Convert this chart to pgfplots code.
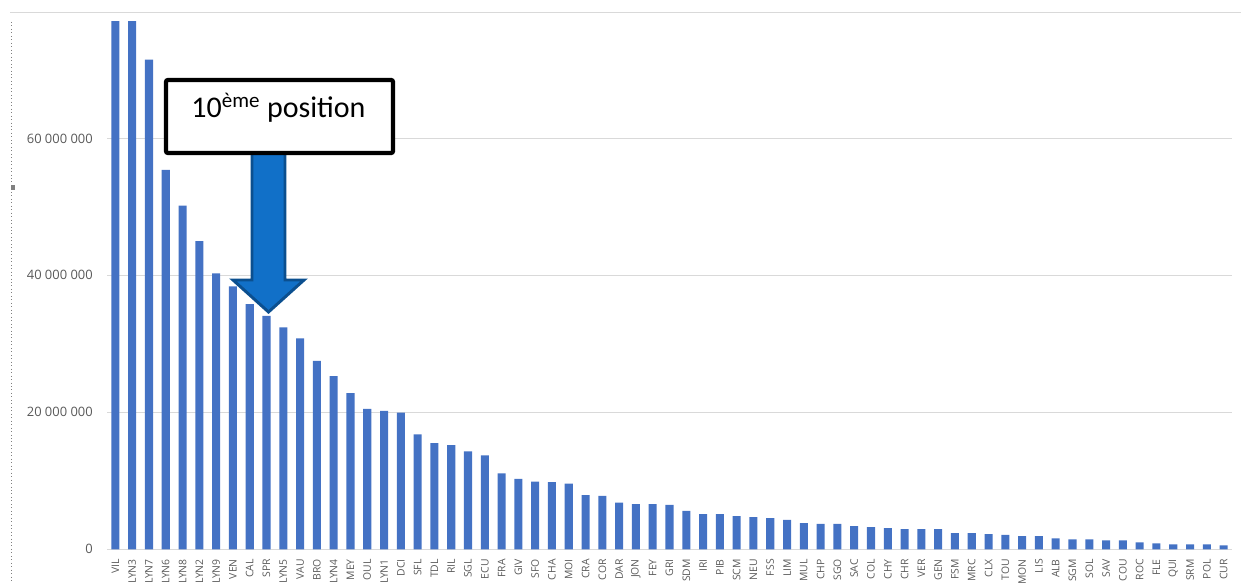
\documentclass[border=0pt]{standalone}
\usepackage{pgfplots}
\pgfplotsset{compat=1.18}
\usepackage{pgfplotstable}
\usepackage{fontspec}
\setmainfont{Carlito}
\newfontfamily\tickfont{Open Sans}
\definecolor{barblue}{HTML}{4472C4}
\definecolor{gridgray}{HTML}{D9D9D9}
\definecolor{labgray}{HTML}{595959}
\definecolor{arrowfill}{HTML}{1170C8}
\definecolor{arrowedge}{HTML}{0B4F8F}

% values in millions
\pgfplotstableread{
idx name value
0 VIL 90
1 LYN3 85
2 LYN7 71.5
3 LYN6 55.4
4 LYN8 50.2
5 LYN2 45.0
6 LYN9 40.3
7 VEN 38.4
8 CAL 35.8
9 SPR 34.1
10 LYN5 32.4
11 VAU 30.8
12 BRO 27.5
13 LYN4 25.3
14 MEY 22.8
15 OUL 20.5
16 LYN1 20.2
17 DCI 19.95
18 SFL 16.8
19 TDL 15.5
20 RIL 15.2
21 SGL 14.3
22 ECU 13.7
23 FRA 11.1
24 GIV 10.3
25 SFO 9.9
26 CHA 9.8
27 MOI 9.6
28 CRA 7.9
29 COR 7.8
30 DAR 6.8
31 JON 6.6
32 FEY 6.6
33 GRI 6.5
34 SDM 5.6
35 IRI 5.15
36 PIB 5.15
37 SCM 4.86
38 NEU 4.7
39 FSS 4.57
40 LIM 4.28
41 MUL 3.84
42 CHP 3.7
43 SGO 3.7
44 SAC 3.4
45 COL 3.25
46 CHY 3.1
47 CHR 2.95
48 VER 2.95
49 GEN 2.95
50 FSM 2.37
51 MRC 2.35
52 CLX 2.23
53 TOU 2.09
54 MON 1.94
55 LIS 1.94
56 ALB 1.6
57 SGM 1.46
58 SOL 1.46
59 SAV 1.31
60 COU 1.31
61 ROC 1.02
62 FLE 0.88
63 QUI 0.73
64 SRM 0.73
65 POL 0.73
66 CUR 0.58
}\data

\begin{document}
\begin{tikzpicture}
\path[use as bounding box] (0,0) rectangle (930.75pt,437.25pt);
\begin{axis}[
  at={(80.25pt,25.275pt)}, anchor=south west,
  scale only axis, width=843.75pt, height=395.5pt,
  xmin=-0.5, xmax=66.5, ymin=0, ymax=77,
  axis line style={draw=none},
  tick style={draw=none},
  ymajorgrids, major grid style={gridgray, line width=0.75pt},
  ybar, bar width=0.48, bar shift=0pt,
  xtick={0,...,66},
  xticklabels from table={\data}{name},
  ytick={0,20,40,60},
  yticklabels={0,20 000 000,40 000 000,60 000 000},
  xticklabel style={font=\tickfont\fontsize{7.8}{9}\selectfont, text=labgray, rotate=90, anchor=east, inner xsep=3pt, inner ysep=0pt},
  yticklabel style={font=\tickfont\fontsize{9.7}{11}\selectfont, text=labgray, anchor=east, inner xsep=10.5pt, inner ysep=0pt},
]
\addplot[fill=barblue, draw=none] table[x=idx,y=value]{\data};
\end{axis}
\begin{scope}[shift={(0pt,437.25pt)}, x=0.75pt, y=-0.75pt]
  \draw[gridgray, line width=0.75pt] (10,13) -- (1241,13);
  \draw[gray, dotted, line width=0.6pt] (11.5,22) -- (11.5,583);
  \fill[gray] (11,185) rectangle (15,190);
  \draw[arrowedge, line width=2.2pt, fill=arrowfill, line join=miter]
    (252,150) -- (285,150) -- (285,280) -- (304,280) -- (268.5,312) -- (233,280) -- (252,280) -- cycle;
  \draw[line width=3.2pt, fill=white, rounded corners=1.5pt] (166,80) rectangle (393,153);
  \node[font=\fontsize{22.5}{27}\selectfont, anchor=base, inner sep=0pt] at (278.5,118) {10\textsuperscript{ème} position};
\end{scope}
\end{tikzpicture}
\end{document}
